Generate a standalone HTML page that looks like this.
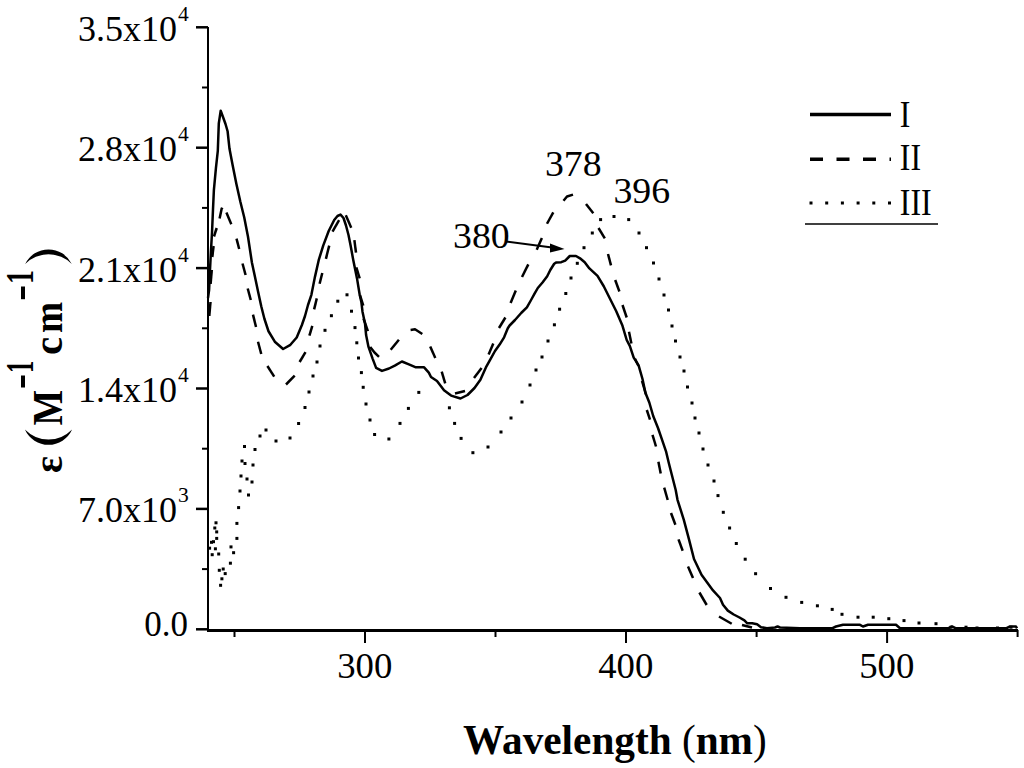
<!DOCTYPE html>
<html><head><meta charset="utf-8"><style>
html,body{margin:0;padding:0;background:#fff;}
body{width:1024px;height:768px;overflow:hidden;}
svg{display:block;}
text{font-family:"Liberation Serif",serif;}
</style></head><body>
<svg width="1024" height="768" viewBox="0 0 1024 768">
<rect width="1024" height="768" fill="#fff"/>
<g stroke="#000" fill="none" stroke-linecap="butt">
<line x1="208" y1="27" x2="208" y2="632" stroke-width="2"/>
<line x1="207" y1="630.5" x2="1018" y2="630.5" stroke-width="3"/>
<line x1="196" y1="629.3" x2="208" y2="629.3" stroke-width="2.5"/><line x1="202" y1="569.1" x2="208" y2="569.1" stroke-width="2"/><line x1="196" y1="508.9" x2="208" y2="508.9" stroke-width="2.5"/><line x1="202" y1="448.7" x2="208" y2="448.7" stroke-width="2"/><line x1="196" y1="388.5" x2="208" y2="388.5" stroke-width="2.5"/><line x1="202" y1="328.3" x2="208" y2="328.3" stroke-width="2"/><line x1="196" y1="268.1" x2="208" y2="268.1" stroke-width="2.5"/><line x1="202" y1="207.9" x2="208" y2="207.9" stroke-width="2"/><line x1="196" y1="147.7" x2="208" y2="147.7" stroke-width="2.5"/><line x1="202" y1="87.5" x2="208" y2="87.5" stroke-width="2"/><line x1="196" y1="27.3" x2="208" y2="27.3" stroke-width="2.5"/><line x1="234.5" y1="630" x2="234.5" y2="637" stroke-width="2"/><line x1="365.0" y1="630" x2="365.0" y2="643" stroke-width="2"/><line x1="495.5" y1="630" x2="495.5" y2="637" stroke-width="2"/><line x1="626.0" y1="630" x2="626.0" y2="643" stroke-width="2"/><line x1="756.6" y1="630" x2="756.6" y2="637" stroke-width="2"/><line x1="887.1" y1="630" x2="887.1" y2="643" stroke-width="2"/><line x1="1017.6" y1="630" x2="1017.6" y2="637" stroke-width="2"/>
</g>
<g fill="none" stroke="#000" stroke-linejoin="round">
<polyline points="208,298 209.1,290 210,270 211,250 212,232.8 213,209.4 213.9,189.8 215.9,168.4 217.8,150.8 218.8,123.4 220.7,110.7 223,117 225.5,124 227.6,131.25 229.5,148.8 232.5,164.5 236.4,184 240.3,201.5 244.2,217.2 248,236.7 251.9,262.5 255,277 258.1,291.7 261.25,306.25 264.4,318.75 268.5,331.25 274.8,341.7 283.1,349 290.4,344.8 296.7,337.5 301.9,325 305,316 308,305 311.4,294.8 315,276.6 318.7,260.2 323.2,245.6 328.7,231 334.2,220 337.5,216 340.5,214.6 343.5,218 346,225.5 348.5,235 350.6,245.6 353.3,260.2 357,278.4 359.7,294.8 361.4,302.3 362.5,311.7 365,323.4 366.1,335.1 368.5,346.9 372.6,358.6 376.1,367.9 382,370.9 389,368.5 394.8,365.6 401.9,361.5 408.9,364.4 415.9,367.3 424.1,367.3 428.8,372.6 431,377 437,381 444,390.3 451.1,395.6 460.5,398.5 467.5,395 474.5,388 480.4,379.8 485.9,367.4 490.5,359.2 495,351 499.6,344.6 504.1,337.3 507.8,328.2 509.6,325.5 515,320 521.4,312.75 526.9,307.3 530.8,300.5 534.7,293.4 537.8,288 542.5,282.5 547.2,276.25 550.3,270 554.2,263.75 556,262.6 561.25,262.2 565.2,260.6 569.8,256 576,256 580,258.3 584.7,262.2 589.4,268.4 597.5,275.8 603.75,286.25 610,298.75 616.25,311.25 622.5,325.8 626.7,340 629.8,345.9 633.7,357.6 638.6,365.4 642.5,379 645.4,392.7 649.3,402.5 653.2,416 658,428 662,439.6 666,451.3 668.8,463 671.8,474.8 675.7,490 677.5,499.8 683.75,519.6 689,539.4 694,559 701.5,574.8 713,590.4 720,598 723,604.8 727.8,610.6 733.7,614.5 739.5,617.5 744.4,620.4 747.3,623.3 752.2,623.3 757.1,624.3 761,627.2 766.9,628.2 775,627.5 777.6,626.5 780,627.5 800,628.3 832,628.3 836,626.5 843,624.8 860,624.8 863,626.5 868,624.8 880,624.8 884,624.8 896,624.8 900,628.3 948,628.3 952,626.5 956,628.3 1006,628.3 1010,626.5 1016,626.5 1017,628.3" stroke-width="2.5"/>
<polyline points="209.3,316 210.5,302" stroke-width="2.5"/><polyline points="210.6,284 211.8,270" stroke-width="2.5"/><polyline points="212.3,257 213.6,246" stroke-width="2.5"/><polyline points="214,236.5 216.7,228" stroke-width="2.5"/><polyline points="219.6,218.4 221.7,208.6 222.6,209.5" stroke-width="2.5"/><polyline points="226.4,212.6 231.3,224.3" stroke-width="2.5"/><polyline points="236.5,238.6 239.2,249" stroke-width="2.5"/><polyline points="242.5,263.5 245.6,275" stroke-width="2.5"/><polyline points="247.7,288.5 250.8,300" stroke-width="2.5"/><polyline points="253,314.6 256,327" stroke-width="2.5"/><polyline points="258,341.7 261.25,354" stroke-width="2.5"/><polyline points="267.4,366 274.2,376.6" stroke-width="2.5"/><polyline points="286,384.5 294.7,375.7" stroke-width="2.5"/><polyline points="299.6,362 305.5,352.2" stroke-width="2.5"/><polyline points="309.4,335.6 312.3,325.9" stroke-width="2.5"/><polyline points="314.1,309.4 316.8,298.4" stroke-width="2.5"/><polyline points="319.6,283.8 322.3,273" stroke-width="2.5"/><polyline points="325.9,258.9 329.2,245.6" stroke-width="2.5"/><polyline points="332.5,231.6 339.1,220.2" stroke-width="2.5"/><polyline points="345.8,215.2 351.25,227.7" stroke-width="2.5"/><polyline points="354.4,240.2 356,252.7" stroke-width="2.5"/><polyline points="356.3,267.4 359.7,278.4" stroke-width="2.5"/><polyline points="359.9,294.8 363.3,305.7" stroke-width="2.5"/><polyline points="363.5,318.5 367.9,331.2" stroke-width="2.5"/><polyline points="370.2,346.9 374.5,352.5 379,356.8" stroke-width="2.5"/><polyline points="390.7,349.8 398.9,339.8" stroke-width="2.5"/><polyline points="410.6,329.9 415,329.3 422.3,334" stroke-width="2.5"/><polyline points="430.2,346.6 435.3,358" stroke-width="2.5"/><polyline points="441.7,371.6 445.2,383.3" stroke-width="2.5"/><polyline points="455,393.5 465,391" stroke-width="2.5"/><polyline points="474,378 481.6,368" stroke-width="2.5"/><polyline points="488.6,354.6 493.3,343.4" stroke-width="2.5"/><polyline points="499,328 505.4,317.5" stroke-width="2.5"/><polyline points="510.6,303 515.8,290.4" stroke-width="2.5"/><polyline points="522,277 528.3,264.4" stroke-width="2.5"/><polyline points="536.7,249.8 541.9,238" stroke-width="2.5"/><polyline points="547,223.75 553.3,212.3" stroke-width="2.5"/><polyline points="563.5,200.8 567,196.5 573,194.6" stroke-width="2.5"/><polyline points="586,204 593.3,213.3" stroke-width="2.5"/><polyline points="598.5,228 604.8,238.3" stroke-width="2.5"/><polyline points="608,254 611,265.4" stroke-width="2.5"/><polyline points="615.2,280 619.4,291.5" stroke-width="2.5"/><polyline points="622.5,305 626.7,317.5" stroke-width="2.5"/><polyline points="629,331.7 631.4,343.4" stroke-width="2.5"/><polyline points="635,358.7 638.4,365.7" stroke-width="2.5"/><polyline points="642,381 646,394.5" stroke-width="2.5"/><polyline points="646.8,410 650,419.6" stroke-width="2.5"/><polyline points="652.5,434.8 656,446.5" stroke-width="2.5"/><polyline points="658.4,461.8 660.7,473.5" stroke-width="2.5"/><polyline points="664.2,487.6 667.7,500" stroke-width="2.5"/><polyline points="671,513 675.4,524.8" stroke-width="2.5"/><polyline points="678.5,539.4 682.7,550.8" stroke-width="2.5"/><polyline points="688,566.5 693,578" stroke-width="2.5"/><polyline points="699.4,592.5 706.7,605" stroke-width="2.5"/><polyline points="719,616.5 731.7,623.75" stroke-width="2.5"/><polyline points="742,625 752,627.5" stroke-width="2.5"/>
</g>
<g fill="#000"><rect x="208.1" y="546.7" width="3" height="3"/><rect x="210.0" y="540.8" width="3" height="3"/><rect x="212.0" y="540.2" width="3" height="3"/><rect x="210.7" y="553.2" width="3" height="3"/><rect x="213.9" y="547.3" width="3" height="3"/><rect x="215.2" y="536.9" width="3" height="3"/><rect x="215.2" y="530.4" width="3" height="3"/><rect x="213.3" y="526.5" width="3" height="3"/><rect x="214.5" y="521.3" width="3" height="3"/><rect x="217.2" y="552.5" width="3" height="3"/><rect x="217.8" y="568.8" width="3" height="3"/><rect x="221.7" y="567.5" width="3" height="3"/><rect x="223.7" y="572.1" width="3" height="3"/><rect x="220.4" y="577.3" width="3" height="3"/><rect x="219.1" y="583.8" width="3" height="3"/><rect x="228.9" y="561.7" width="3" height="3"/><rect x="229.5" y="545.4" width="3" height="3"/><rect x="232.1" y="551.2" width="3" height="3"/><rect x="235.4" y="536.9" width="3" height="3"/><rect x="235.4" y="521.9" width="3" height="3"/><rect x="237.1" y="506.1" width="3" height="3"/><rect x="238.5" y="489.5" width="3" height="3"/><rect x="247.0" y="493.5" width="3" height="3"/><rect x="239.5" y="474.5" width="3" height="3"/><rect x="245.5" y="477.5" width="3" height="3"/><rect x="250.5" y="480.5" width="3" height="3"/><rect x="240.5" y="459.5" width="3" height="3"/><rect x="243.5" y="462.0" width="3" height="3"/><rect x="251.5" y="463.5" width="3" height="3"/><rect x="243.0" y="445.0" width="3" height="3"/><rect x="253.5" y="448.0" width="3" height="3"/><rect x="258.5" y="434.5" width="3" height="3"/><rect x="264.5" y="428.5" width="3" height="3"/><rect x="274.5" y="439.5" width="3" height="3"/><rect x="288.5" y="436.5" width="3" height="3"/><rect x="297.1" y="422.0" width="3" height="3"/><rect x="303.5" y="406.0" width="3" height="3"/><rect x="307.5" y="390.5" width="3" height="3"/><rect x="311.5" y="374.5" width="3" height="3"/><rect x="315.5" y="360.5" width="3" height="3"/><rect x="318.5" y="344.5" width="3" height="3"/><rect x="323.5" y="328.8" width="3" height="3"/><rect x="329.9" y="314.2" width="3" height="3"/><rect x="336.3" y="299.7" width="3" height="3"/><rect x="345.5" y="293.3" width="3" height="3"/><rect x="350.0" y="309.7" width="3" height="3"/><rect x="353.5" y="326.1" width="3" height="3"/><rect x="355.3" y="341.3" width="3" height="3"/><rect x="357.0" y="356.5" width="3" height="3"/><rect x="359.9" y="371.1" width="3" height="3"/><rect x="361.7" y="385.8" width="3" height="3"/><rect x="364.5" y="402.5" width="3" height="3"/><rect x="368.5" y="418.5" width="3" height="3"/><rect x="373.1" y="433.0" width="3" height="3"/><rect x="387.4" y="437.5" width="3" height="3"/><rect x="398.5" y="421.9" width="3" height="3"/><rect x="406.9" y="406.9" width="3" height="3"/><rect x="417.3" y="390.9" width="3" height="3"/><rect x="447.9" y="406.3" width="3" height="3"/><rect x="453.1" y="421.9" width="3" height="3"/><rect x="459.6" y="436.9" width="3" height="3"/><rect x="471.4" y="451.2" width="3" height="3"/><rect x="486.5" y="445.5" width="3" height="3"/><rect x="499.5" y="430.5" width="3" height="3"/><rect x="509.5" y="416.5" width="3" height="3"/><rect x="520.5" y="400.5" width="3" height="3"/><rect x="528.5" y="383.5" width="3" height="3"/><rect x="534.5" y="368.5" width="3" height="3"/><rect x="540.5" y="355.5" width="3" height="3"/><rect x="546.5" y="339.5" width="3" height="3"/><rect x="552.9" y="323.3" width="3" height="3"/><rect x="558.1" y="307.7" width="3" height="3"/><rect x="564.3" y="292.0" width="3" height="3"/><rect x="569.5" y="276.5" width="3" height="3"/><rect x="575.8" y="261.8" width="3" height="3"/><rect x="582.5" y="246.2" width="3" height="3"/><rect x="590.8" y="231.5" width="3" height="3"/><rect x="599.1" y="218.1" width="3" height="3"/><rect x="612.5" y="215.0" width="3" height="3"/><rect x="627.2" y="218.1" width="3" height="3"/><rect x="637.5" y="231.5" width="3" height="3"/><rect x="645.0" y="246.2" width="3" height="3"/><rect x="652.0" y="261.5" width="3" height="3"/><rect x="657.5" y="277.5" width="3" height="3"/><rect x="662.5" y="293.5" width="3" height="3"/><rect x="667.0" y="308.5" width="3" height="3"/><rect x="670.5" y="324.5" width="3" height="3"/><rect x="674.0" y="339.5" width="3" height="3"/><rect x="678.5" y="355.5" width="3" height="3"/><rect x="682.5" y="369.5" width="3" height="3"/><rect x="686.0" y="385.5" width="3" height="3"/><rect x="690.5" y="401.5" width="3" height="3"/><rect x="693.5" y="416.5" width="3" height="3"/><rect x="697.5" y="431.5" width="3" height="3"/><rect x="701.5" y="447.5" width="3" height="3"/><rect x="706.5" y="463.5" width="3" height="3"/><rect x="712.5" y="479.5" width="3" height="3"/><rect x="716.5" y="494.1" width="3" height="3"/><rect x="721.8" y="510.8" width="3" height="3"/><rect x="728.1" y="526.5" width="3" height="3"/><rect x="734.8" y="542.0" width="3" height="3"/><rect x="743.7" y="557.7" width="3" height="3"/><rect x="754.1" y="572.2" width="3" height="3"/><rect x="769.0" y="587.0" width="3" height="3"/><rect x="784.5" y="595.8" width="3" height="3"/><rect x="800.2" y="600.9" width="3" height="3"/><rect x="815.9" y="604.3" width="3" height="3"/><rect x="830.7" y="607.9" width="3" height="3"/><rect x="840.5" y="612.8" width="3" height="3"/><rect x="856.5" y="615.7" width="3" height="3"/><rect x="871.7" y="615.7" width="3" height="3"/><rect x="887.3" y="617.2" width="3" height="3"/><rect x="902.5" y="619.1" width="3" height="3"/><rect x="917.5" y="621.5" width="3" height="3"/><rect x="934.5" y="622.2" width="3" height="3"/><rect x="949.5" y="625.7" width="3" height="3"/><rect x="964.5" y="625.7" width="3" height="3"/><rect x="975.5" y="626.5" width="3" height="3"/><rect x="996.0" y="626.5" width="3" height="3"/><rect x="1009.5" y="625.7" width="3" height="3"/>
</g>
<g font-size="35" fill="#000">
<text transform="translate(177,40.8) scale(1.03,1)" text-anchor="end">3.5x10</text><text x="178" y="20.8" font-size="21.5">4</text><text transform="translate(177,161.2) scale(1.03,1)" text-anchor="end">2.8x10</text><text x="178" y="141.2" font-size="21.5">4</text><text transform="translate(177,281.6) scale(1.03,1)" text-anchor="end">2.1x10</text><text x="178" y="261.6" font-size="21.5">4</text><text transform="translate(177,402.0) scale(1.03,1)" text-anchor="end">1.4x10</text><text x="178" y="382.0" font-size="21.5">4</text><text transform="translate(177,522.4) scale(1.03,1)" text-anchor="end">7.0x10</text><text x="178" y="502.4" font-size="21.5">3</text><text x="188" y="636" text-anchor="end">0.0</text>
<text transform="translate(364.7,678.3) scale(1.05,1)" text-anchor="middle">300</text><text transform="translate(625.8,678.3) scale(1.05,1)" text-anchor="middle">400</text><text transform="translate(886.8,678.3) scale(1.05,1)" text-anchor="middle">500</text>
<text transform="translate(573.3,176.3) scale(1.05,1)" text-anchor="middle" font-size="36">378</text>
<text transform="translate(641.8,202.8) scale(1.05,1)" text-anchor="middle" font-size="36">396</text>
<text transform="translate(481.4,247.8) scale(1.05,1)" text-anchor="middle" font-size="36">380</text>
<text transform="translate(899.8,126.5) scale(0.86,1)" font-size="37">I</text>
<text transform="translate(899.8,169.5) scale(0.86,1)" font-size="37">II</text>
<text transform="translate(899.8,214.5) scale(0.86,1)" font-size="37">III</text>
</g>
<g stroke="#000" fill="none">
<line x1="506" y1="241.5" x2="552" y2="247.5" stroke-width="2"/>
<line x1="810" y1="114.6" x2="891" y2="114.6" stroke-width="3.5"/>
<line x1="810" y1="159.2" x2="891" y2="159.2" stroke-width="3.5" stroke-dasharray="13 13.5"/>
<line x1="809.5" y1="203" x2="892" y2="203" stroke-width="3" stroke-dasharray="3 12.7"/>
<line x1="805" y1="224" x2="938" y2="224" stroke-width="1.6"/>
</g>
<polygon points="564.5,249 550,243.5 550,252.5" fill="#000"/>
<text transform="translate(614.9,753.7) scale(0.994,1)" font-size="41.5" font-weight="bold" text-anchor="middle">Wavelength <tspan font-weight="normal">(</tspan>nm<tspan font-weight="normal">)</tspan></text>
<g font-weight="bold" font-size="40">
<text transform="translate(61.5,473) rotate(-90)">&#949;</text>
<text transform="translate(61.5,425.5) rotate(-90) scale(0.88,1)" font-size="43">M</text>
<text transform="translate(33,373) rotate(-90) scale(0.62,1)">1</text>
<text transform="translate(61.5,355) rotate(-90) scale(0.95,1)" font-size="43">c</text><text transform="translate(61.5,333) rotate(-90) scale(0.87,1)" font-size="43">m</text>
<text transform="translate(33,284) rotate(-90) scale(0.7,1)">1</text>
</g>
<path d="M25.2,264 A25.9,25.9 0 0 1 71.8,264 A33,33 0 0 0 25.2,264 Z" fill="#000"/>
<path d="M24.9,429.6 A25.9,25.9 0 0 0 72.1,429.6 A33,33 0 0 1 24.9,429.6 Z" fill="#000"/>
<rect x="21" y="375.5" width="4" height="12" fill="#000"/>
<rect x="21" y="286.5" width="4" height="12.7" fill="#000"/>
</svg>
</body></html>
